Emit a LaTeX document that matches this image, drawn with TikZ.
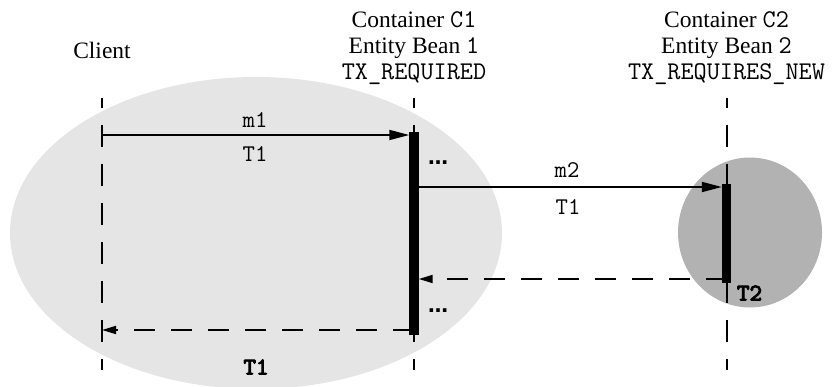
\documentclass[tikz,border=0pt]{standalone}
\usepackage{fontspec}
\setmainfont{Liberation Serif}
\newfontfamily\dotsfont{DejaVu Sans}
\newfontfamily\ttbold{lmmono10-regular.otf}[FakeBold=4]
\usetikzlibrary{arrows.meta}

% typewriter parts of the headers, a little larger than the serif text
\newcommand{\hdtt}[1]{{\fontsize{25.5}{26}\selectfont\ttfamily #1}}

\begin{document}
\begin{tikzpicture}[x=1pt,y=-1pt,
  lifeline/.style={line width=2pt, dash pattern=on 22pt off 17pt, dash phase=12pt},
  actbar/.style={fill=black, draw=none, minimum width=9pt, inner sep=0pt, anchor=north},
  call/.style={line width=1.8pt, -{Triangle[length=20pt,width=10pt]}},
  reply/.style={line width=1.8pt, dash pattern=on 21pt off 16pt, -{Triangle[length=14pt,width=8pt]}},
  head/.style={align=center, font=\fontsize{23.5}{26}\selectfont, inner sep=0pt},
  msg/.style={font=\fontsize{24}{24}\selectfont\ttfamily, inner sep=0pt},
  tlabel/.style={font=\fontsize{24}{24}\selectfont\ttbold, inner sep=0pt},
  more/.style={font=\fontsize{20}{24}\selectfont\dotsfont\bfseries, inner sep=0pt}
]
\useasboundingbox (0,0) rectangle (834,387);

% transaction scopes
\fill[black!10] (256,233) ellipse [x radius=246pt, y radius=156pt];
\fill[black!30] (750,232.5) ellipse [x radius=72pt, y radius=75pt];

% participants
\node[head, anchor=base] (client) at (102,58.3) {Client};
\node[head, anchor=north] (c1) at (414,11.5) {Container \hdtt{C1}\\Entity Bean \hdtt{1}\\\hdtt{TX\_REQUIRED}};
\node[head, anchor=north] (c2) at (726.5,11.5) {Container \hdtt{C2}\\Entity Bean \hdtt{2}\\\hdtt{TX\_REQUIRES\_NEW}};

% lifeline end points
\coordinate (clTop) at (102,98);   \coordinate (clBot) at (102,370);
\coordinate (c1Top) at (414,98);   \coordinate (c1Bot) at (414,370);
\coordinate (c2Top) at (726.5,98); \coordinate (c2Bot) at (726.5,370);

\draw[lifeline] (clTop) -- (clBot);
\draw[lifeline] (c1Top) -- (c1Bot);
\draw[lifeline] (c2Top) -- (c2Bot);

% activation bars
\path (414,132) node[actbar, minimum height=203pt] (bar1) {};
\path (726.5,184) node[actbar, minimum height=99pt] (bar2) {};

% message heights
\coordinate (m1y) at (0,135);
\coordinate (m2y) at (0,187);
\coordinate (r2y) at (0,279);
\coordinate (r1y) at (0,330);

% returns (drawn below the bars)
\draw[reply] (bar2 |- r2y) -- (bar1.east |- r2y);
\draw[reply] (bar1 |- r1y) -- (clTop |- r1y);

% redraw bars on top of the return lines
\fill[black] (bar1.north west) rectangle (bar1.south east);
\fill[black] (bar2.north west) rectangle (bar2.south east);

% calls
\draw[call] (clTop |- m1y) -- (bar1.west |- m1y);
\draw[call] (bar1.east |- m2y) -- (bar2.west |- m2y);

% labels
\node[msg] (m1) at (255,120) {m1};
\node[msg] (m1t) at (255,154) {T1};
\node[msg] (m2) at (567,170) {m2};
\node[msg] (m2t) at (568,207) {T1};
\node[more] (dotsA) at (438,163) {…};
\node[more] (dotsB) at (438,311) {…};
\node[tlabel] (t2) at (749.5,293) {T2};
\node[tlabel] (t1) at (256,367) {T1};
\end{tikzpicture}
\end{document}
